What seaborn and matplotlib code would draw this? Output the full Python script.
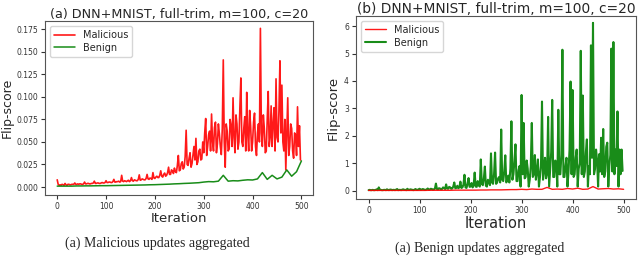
import numpy as np
import matplotlib
matplotlib.use("Agg")
import matplotlib.pyplot as plt
import seaborn as sns

# iterations (noisy series sampled every 2, smooth ones every 10)
iters_fine = np.arange(0, 500, 2)
iters_coarse = np.arange(0, 501, 10)

# (a) malicious updates aggregated
a_malicious = [
    0.008, 0.003, 0.002, 0.0025, 0.002, 0.003, 0.0025, 0.002, 0.004, 0.0025,
    0.002, 0.003, 0.003, 0.0025, 0.0025, 0.003, 0.003, 0.003, 0.0045, 0.003,
    0.003, 0.0035, 0.003, 0.0035, 0.0035, 0.003, 0.003, 0.0035, 0.0055, 0.0035,
    0.0035, 0.004, 0.004, 0.0035, 0.0035, 0.004, 0.004, 0.0045, 0.0065, 0.004,
    0.004, 0.0045, 0.0045, 0.004, 0.004, 0.0045, 0.005, 0.0045, 0.0045, 0.005,
    0.007, 0.005, 0.005, 0.0055, 0.0055, 0.005, 0.005, 0.006, 0.0085, 0.0055,
    0.0055, 0.006, 0.006, 0.0065, 0.0055, 0.006, 0.013, 0.0065, 0.006, 0.007,
    0.0065, 0.006, 0.007, 0.0075, 0.006, 0.007, 0.0105, 0.007, 0.0065, 0.008,
    0.0075, 0.007, 0.007, 0.0085, 0.0135, 0.0075, 0.008, 0.009, 0.0085, 0.008,
    0.008, 0.0095, 0.014, 0.009, 0.0085, 0.01, 0.0095, 0.0085, 0.016, 0.01,
    0.0095, 0.011, 0.012, 0.0105, 0.0105, 0.013, 0.018, 0.012, 0.011, 0.014,
    0.0155, 0.012, 0.013, 0.016, 0.022, 0.014, 0.014, 0.019, 0.018, 0.015,
    0.021, 0.017, 0.016, 0.024, 0.035, 0.018, 0.019, 0.026, 0.028, 0.02,
    0.022, 0.034, 0.063, 0.025, 0.024, 0.032, 0.038, 0.022, 0.026, 0.036,
    0.045, 0.03, 0.054, 0.025, 0.028, 0.04, 0.042, 0.03, 0.031, 0.05,
    0.038, 0.06, 0.076, 0.035, 0.045, 0.058, 0.062, 0.04, 0.081, 0.05,
    0.04, 0.066, 0.072, 0.038, 0.048, 0.07, 0.059, 0.045, 0.036, 0.065,
    0.141, 0.05, 0.022, 0.07, 0.062, 0.04, 0.042, 0.075, 0.068, 0.045,
    0.099, 0.055, 0.038, 0.08, 0.07, 0.042, 0.05, 0.088, 0.121, 0.05,
    0.045, 0.065, 0.078, 0.04, 0.105, 0.06, 0.04, 0.085, 0.068, 0.04,
    0.05, 0.072, 0.082, 0.045, 0.035, 0.06, 0.07, 0.05, 0.176, 0.06,
    0.045, 0.08, 0.065, 0.038, 0.04, 0.075, 0.106, 0.045, 0.055, 0.09,
    0.045, 0.07, 0.088, 0.04, 0.12, 0.055, 0.05, 0.085, 0.14, 0.06,
    0.113, 0.05, 0.04, 0.075, 0.019, 0.06, 0.099, 0.035, 0.045, 0.07,
    0.065, 0.04, 0.032, 0.06, 0.058, 0.035, 0.089, 0.045, 0.068, 0.03,
]
a_benign = [
    0.001, 0.001, 0.001, 0.001, 0.0012, 0.0012, 0.0013, 0.0013, 0.0014, 0.0015,
    0.0015, 0.0016, 0.0017, 0.0018, 0.0019, 0.002, 0.0021, 0.0022, 0.0023, 0.0025,
    0.0026, 0.0028, 0.003, 0.0032, 0.0035, 0.0037, 0.004, 0.0042, 0.0045, 0.0048,
    0.0055, 0.006, 0.0058, 0.0065, 0.013, 0.0065, 0.007, 0.0068, 0.0075, 0.008,
    0.0078, 0.009, 0.016, 0.0085, 0.013, 0.009, 0.011, 0.019, 0.012, 0.017,
    0.029,
]

# (b) benign updates aggregated
b_malicious = [
    0.01, 0.01, 0.01, 0.01, 0.01, 0.01, 0.01, 0.01, 0.01, 0.01,
    0.01, 0.01, 0.015, 0.015, 0.015, 0.015, 0.015, 0.02, 0.02, 0.02,
    0.02, 0.02, 0.025, 0.025, 0.03, 0.03, 0.03, 0.035, 0.04, 0.04,
    0.05, 0.04, 0.06, 0.05, 0.05, 0.12, 0.05, 0.06, 0.05, 0.08,
    0.06, 0.09, 0.05, 0.06, 0.15, 0.06, 0.07, 0.08, 0.06, 0.07,
    0.05,
]
b_benign = [
    0.02, 0.03, 0.02, 0.02, 0.03, 0.02, 0.02, 0.03, 0.05, 0.02,
    0.12, 0.03, 0.03, 0.02, 0.02, 0.03, 0.03, 0.02, 0.05, 0.03,
    0.02, 0.04, 0.04, 0.02, 0.03, 0.03, 0.02, 0.04, 0.06, 0.02,
    0.03, 0.03, 0.02, 0.04, 0.05, 0.03, 0.03, 0.02, 0.07, 0.03,
    0.03, 0.05, 0.04, 0.03, 0.02, 0.04, 0.06, 0.03, 0.03, 0.05,
    0.07, 0.03, 0.04, 0.06, 0.05, 0.03, 0.03, 0.05, 0.08, 0.04,
    0.04, 0.07, 0.06, 0.04, 0.05, 0.07, 0.26, 0.06, 0.05, 0.09,
    0.08, 0.05, 0.06, 0.12, 0.10, 0.06, 0.23, 0.08, 0.07, 0.14,
    0.12, 0.07, 0.08, 0.15, 0.30, 0.09, 0.10, 0.18, 0.09, 0.12,
    0.33, 0.10, 0.12, 0.22, 0.58, 0.12, 0.10, 0.25, 0.46, 0.14,
    0.15, 0.28, 0.12, 0.20, 0.66, 0.15, 0.14, 0.35, 0.20, 0.15,
    1.14, 0.25, 0.20, 0.45, 0.88, 0.18, 0.15, 0.40, 0.30, 0.20,
    1.36, 0.30, 0.25, 0.60, 1.39, 0.25, 0.30, 0.45, 0.50, 0.30,
    2.23, 0.40, 0.35, 0.70, 1.29, 0.30, 0.40, 0.55, 0.30, 0.80,
    2.53, 0.40, 0.60, 1.10, 1.69, 0.35, 0.35, 0.75, 0.90, 0.15,
    3.49, 0.60, 2.47, 0.45, 0.50, 1.10, 0.80, 0.15, 0.40, 0.90,
    2.47, 0.50, 0.60, 1.30, 0.40, 0.70, 1.14, 0.15, 0.50, 0.90,
    3.25, 0.40, 0.70, 1.20, 0.45, 0.60, 2.69, 0.15, 0.80, 1.40,
    3.31, 0.50, 0.50, 1.10, 1.00, 0.15, 2.95, 0.60, 0.60, 1.30,
    5.14, 0.50, 0.50, 0.90, 1.20, 0.15, 0.70, 1.50, 3.98, 0.60,
    3.67, 0.50, 0.60, 1.20, 1.50, 0.15, 0.80, 1.00, 5.10, 0.60,
    3.47, 0.50, 0.70, 1.40, 1.87, 0.15, 0.90, 0.60, 5.30, 1.20,
    6.12, 0.60, 0.80, 1.50, 1.10, 0.15, 1.33, 0.70, 1.93, 0.60,
    2.25, 0.50, 0.70, 1.60, 1.75, 0.15, 0.90, 1.30, 5.18, 0.70,
    5.42, 0.60, 1.50, 0.90, 2.89, 0.15, 1.50, 0.60, 1.50, 0.72,
]

title_text = "DNN+MNIST, full-trim, m=100, c=20"

sns.set_style("ticks", {"axes.edgecolor": "#555555", "xtick.color": "#333333",
                        "ytick.color": "#333333"})
plt.rcParams["font.family"] = ["DejaVu Sans"]

fig = plt.figure(figsize=(6.4, 2.58), dpi=100)
ax1 = fig.add_axes([0.0703, 0.244, 0.419, 0.674])
ax2 = fig.add_axes([0.556, 0.229, 0.4375, 0.709])

# left panel
sns.lineplot(x=iters_fine, y=a_malicious, ax=ax1, color="red", lw=1.2,
             alpha=0.9, label="Malicious")
sns.lineplot(x=iters_coarse, y=a_benign, ax=ax1, color="green", lw=1.1,
             alpha=0.9, label="Benign")
ax1.set_title("(a) " + title_text, fontsize=9.2, pad=2)
ax1.set_xlabel("Iteration", fontsize=9.5, labelpad=1)
ax1.set_ylabel("Flip-score", fontsize=9)
ax1.yaxis.set_label_coords(-0.118, 0.5)
ax1.set_xticks([0, 100, 200, 300, 400, 500])
ax1.set_yticks([0.0, 0.025, 0.05, 0.075, 0.1, 0.125, 0.15, 0.175])
ax1.set_yticklabels([f"{v:.3f}" for v in ax1.get_yticks()])

# right panel
sns.lineplot(x=iters_coarse, y=b_malicious, ax=ax2, color="red", lw=1.0,
             alpha=0.9, label="Malicious", zorder=3)
sns.lineplot(x=iters_fine, y=b_benign, ax=ax2, color="green", lw=1.5,
             alpha=0.9, label="Benign", zorder=2)
ax2.set_title("(b) " + title_text, fontsize=9.9, pad=2)
ax2.set_xlabel("Iteration", fontsize=10.5, labelpad=1)
ax2.set_ylabel("Flip-score", fontsize=9.5)
ax2.yaxis.set_label_coords(-0.058, 0.5)
ax2.set_xticks([0, 100, 200, 300, 400, 500])
ax2.set_yticks([0, 1, 2, 3, 4, 5, 6])

for ax in (ax1, ax2):
    ax.tick_params(labelsize=5.5, length=3, pad=2)
    ax.set_xlim(-25, 524)
    leg = ax.legend(loc="upper left", fontsize=7, frameon=True,
                    borderpad=0.4, handlelength=2.2, labelspacing=0.3)
    leg.get_frame().set_edgecolor("#cccccc")
    for s in ax.spines.values():
        s.set_visible(True)
        s.set_linewidth(0.8)

ax1.set_ylim(-0.0089, 0.184)
ax2.set_ylim(-0.3, 6.37)

fig.text(157 / 640, 1 - 243 / 258, "(a) Malicious updates aggregated",
         family="Liberation Serif", fontsize=10, ha="center", va="center")
fig.text(480 / 640, 1 - 248 / 258, "(a) Benign updates aggregated",
         family="Liberation Serif", fontsize=10, ha="center", va="center")

fig.savefig("out.png", dpi=100)
